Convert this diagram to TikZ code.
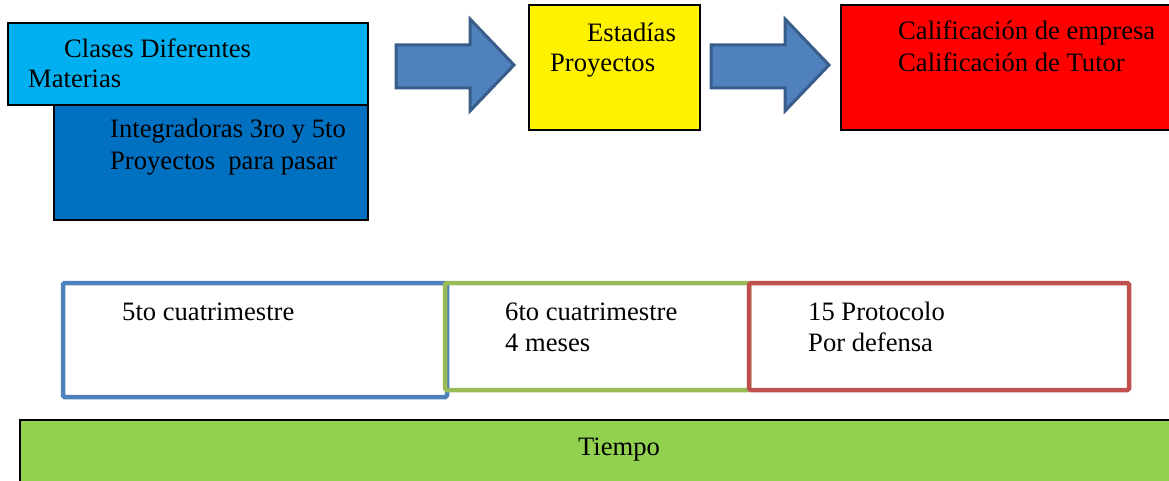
\documentclass[tikz,border=0pt]{standalone}
\usepackage{fontspec}
\setmainfont{Liberation Serif}
\newfontfamily\tnr{Liberation Serif}
\definecolor{cyanbox}{HTML}{00B0F0}
\definecolor{darkbox}{HTML}{0070C0}
\definecolor{arrowfill}{HTML}{4F81BD}
\definecolor{arrowline}{HTML}{385D8A}
\definecolor{olblue}{HTML}{4F81BD}
\definecolor{olgreen}{HTML}{9BBB59}
\definecolor{olred}{HTML}{C0504D}
\definecolor{timegreen}{HTML}{92D050}
\begin{document}
\begin{tikzpicture}[x=1pt,y=-1pt,
  box/.style={draw=black,line width=2pt,rectangle,inner sep=0pt,outer sep=0pt},
  olbox/.style={line width=4.5pt,rectangle,rounded corners=1.5pt,inner sep=0pt,outer sep=0pt},
  txt/.style={anchor=base west,inner sep=0pt,font=\tnr\fontsize{26.6}{30}\selectfont},
  blockarrow/.style={fill=arrowfill,draw=arrowline,line width=3pt,line join=miter}]
\useasboundingbox (0,0) rectangle (1169,481);
% top row
\node[box,fill=darkbox,minimum width=314,minimum height=115] (integ) at (211,162.5) {};
\node[box,fill=cyanbox,minimum width=360,minimum height=82] (clases) at (188,64) {};
\node[box,fill=yellow,minimum width=171,minimum height=125] (estadias) at (614.5,67.5) {};
\node[box,fill=red,minimum width=330,minimum height=125] (calif) at (1006,67.5) {};
% arrows
\draw[blockarrow] (396,45) -- (470,45) -- (470,19) -- (514,65) -- (470,111) -- (470,88) -- (396,88) -- cycle;
\draw[blockarrow] (711,45) -- (785,45) -- (785,19) -- (829,65) -- (785,111) -- (785,88) -- (711,88) -- cycle;
% top texts
\node[txt] (t1) at (64,58) {Clases Diferentes};
\node[txt] (t2) at (28,88) {Materias};
\node[txt] (t3) at (110,138) {Integradoras 3ro y 5to};
\node[txt] (t4) at (110,170) {Proyectos\ \ para pasar};
\node[txt] (t5) at (587,42) {Estadías};
\node[txt] (t6) at (550,72) {Proyectos};
\node[txt] (t7) at (898,40) {Calificación de empresa};
\node[txt] (t8) at (898,72) {Calificación de Tutor};
% bottom boxes
\node[olbox,draw=olblue,minimum width=384,minimum height=114] (q5) at (255,340) {};
\node[olbox,draw=olgreen,minimum width=304,minimum height=107] (q6) at (597,336.5) {};
\node[olbox,draw=olred,minimum width=380,minimum height=107] (prot) at (939,336.5) {};
\node[txt] (b1) at (122,320) {5to cuatrimestre};
\node[txt] (b2) at (505,320) {6to cuatrimestre};
\node[txt] (b3) at (505,351) {4 meses};
\node[txt] (b4) at (808,320) {15 Protocolo};
\node[txt] (b5) at (808,351) {Por defensa};
% time bar
\node[box,fill=timegreen,minimum width=1160,minimum height=70,anchor=north west] (tiempo) at (20,420) {};
\node[txt,anchor=base] (tt) at (619,455) {Tiempo};
\end{tikzpicture}
\end{document}
